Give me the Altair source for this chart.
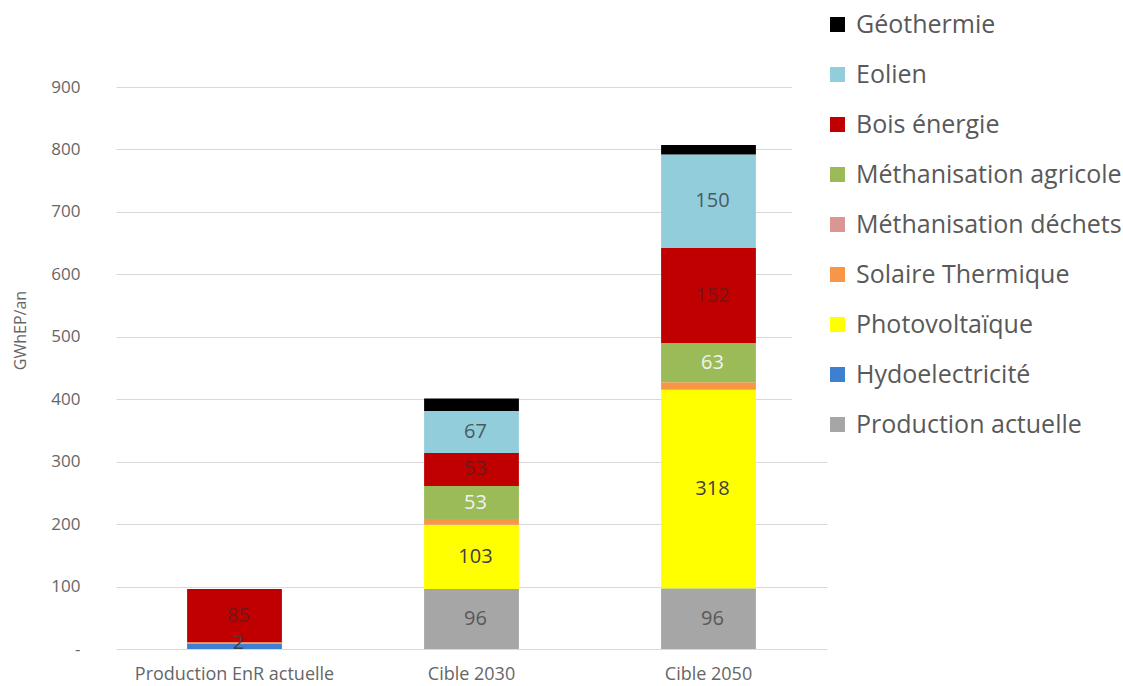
import altair as alt
import pandas as pd

# Bars (x axis)
categories = ["Production EnR actuelle", "Cible 2030", "Cible 2050"]

# Energy sources, listed from the bottom of each stack to the top
sources = [
    "Production actuelle",
    "Hydoelectricité",
    "Photovoltaïque",
    "Solaire Thermique",
    "Méthanisation déchets",
    "Méthanisation agricole",
    "Bois énergie",
    "Eolien",
    "Géothermie",
]

# GWhEP/an per source, one value per bar
production_actuelle = [0, 96, 96]
hydroelectricite = [9, 0, 1]
photovoltaique = [0, 103, 318]
solaire_thermique = [2, 9, 12]
methanisation_dechets = [0, 0, 0]
methanisation_agricole = [0, 53, 63]
bois_energie = [85, 53, 152]
eolien = [0, 67, 150]
geothermie = [0, 20, 15]

series = [
    production_actuelle,
    hydroelectricite,
    photovoltaique,
    solaire_thermique,
    methanisation_dechets,
    methanisation_agricole,
    bois_energie,
    eolien,
    geothermie,
]

# Segments that carry a data label
labelled = {
    "Production EnR actuelle": ["Bois énergie", "Solaire Thermique"],
    "Cible 2030": ["Production actuelle", "Photovoltaïque", "Méthanisation agricole",
                   "Bois énergie", "Eolien"],
    "Cible 2050": ["Production actuelle", "Photovoltaïque", "Méthanisation agricole",
                   "Bois énergie", "Eolien"],
}

fill_colors = {
    "Production actuelle": "#a6a6a6",
    "Hydoelectricité": "#3f7fd0",
    "Photovoltaïque": "#ffff00",
    "Solaire Thermique": "#f79646",
    "Méthanisation déchets": "#d99694",
    "Méthanisation agricole": "#9bbb59",
    "Bois énergie": "#c00000",
    "Eolien": "#92cddc",
    "Géothermie": "#000000",
}

label_colors = {
    "Production actuelle": "#595959",
    "Photovoltaïque": "#404040",
    "Solaire Thermique": "#404040",
    "Méthanisation agricole": "#f2f2f2",
    "Bois énergie": "#6b1a1a",
    "Eolien": "#4a5a62",
}

rows = []
for order, (src, vals) in enumerate(zip(sources, series)):
    for cat, v in zip(categories, vals):
        if v > 0:
            rows.append({
                "categorie": cat,
                "source": src,
                "valeur": v,
                "ordre": order,
                "etiquette": src in labelled[cat],
                "couleur_texte": label_colors.get(src, "#404040"),
            })
df = pd.DataFrame(rows)

legend_order = list(reversed(sources))
FONT = "Open Sans"

x_enc = alt.X(
    "categorie:N",
    sort=categories,
    scale=alt.Scale(paddingInner=0.6, paddingOuter=0.3),
    axis=alt.Axis(
        title=None,
        labelAngle=0,
        labelFontSize=18,
        labelLimit=400,
        labelColor="#666666",
        labelFont=FONT,
        labelPadding=16,
        ticks=False,
        tickSize=0,
        domain=False,
        grid=False,
    ),
)

bars = alt.Chart(df).mark_bar().encode(
    x=x_enc,
    y=alt.Y(
        "valeur:Q",
        stack="zero",
        scale=alt.Scale(domain=[0, 900], nice=False),
        axis=alt.Axis(
            title="GWhEP/an",
            titleFont=FONT,
            titleFontSize=16,
            titleFontWeight="normal",
            titleColor="#666666",
            titleX=-96,
            titleY=243,
            titleAngle=270,
            titleAlign="center",
            titleBaseline="middle",
            values=list(range(0, 901, 100)),
            labelExpr="datum.value == 0 ? '-' : datum.label",
            labelFontSize=17,
            labelColor="#666666",
            labelFont=FONT,
            labelPadding=36,
            ticks=False,
            tickSize=0,
            domain=False,
            grid=True,
            gridColor="#d9d9d9",
            gridWidth=1.2,
        ),
    ),
    color=alt.Color(
        "source:N",
        scale=alt.Scale(domain=legend_order, range=[fill_colors[s] for s in legend_order]),
        legend=alt.Legend(
            title=None,
            orient="none",
            legendX=676,
            legendY=-81,
            padding=6,
            fillColor="white",
            symbolType="square",
            symbolSize=225,
            symbolStrokeWidth=0,
            symbolOffset=27,
            labelFont=FONT,
            labelFontSize=25,
            labelColor="#595959",
            labelOffset=6,
            labelLimit=400,
            rowPadding=24,
        ),
    ),
    order=alt.Order("ordre:Q", sort="ascending"),
)

labels = (
    alt.Chart(df)
    .transform_stack(
        stack="valeur",
        groupby=["categorie"],
        sort=[alt.SortField("ordre", order="ascending")],
        as_=["bas", "haut"],
    )
    .transform_filter("datum.etiquette")
    .transform_calculate(milieu="(datum.bas + datum.haut) / 2")
    .mark_text(font=FONT, fontSize=20, dx=4)
    .encode(
        x=alt.X("categorie:N", sort=categories),
        y=alt.Y("milieu:Q"),
        text=alt.Text("valeur:Q"),
        color=alt.Color("couleur_texte:N", scale=None),
    )
)

chart = (
    alt.layer(bars, labels)
    .resolve_scale(color="independent")
    .properties(
        width=711,
        height=562,
        autosize=alt.AutoSizeParams(type="none"),
        padding={"left": 116, "top": 87, "right": 296, "bottom": 37},
        background="white",
    )
    .configure_view(stroke=None)
)

chart.save("out.html", embed_options={"renderer": "svg", "actions": False})
